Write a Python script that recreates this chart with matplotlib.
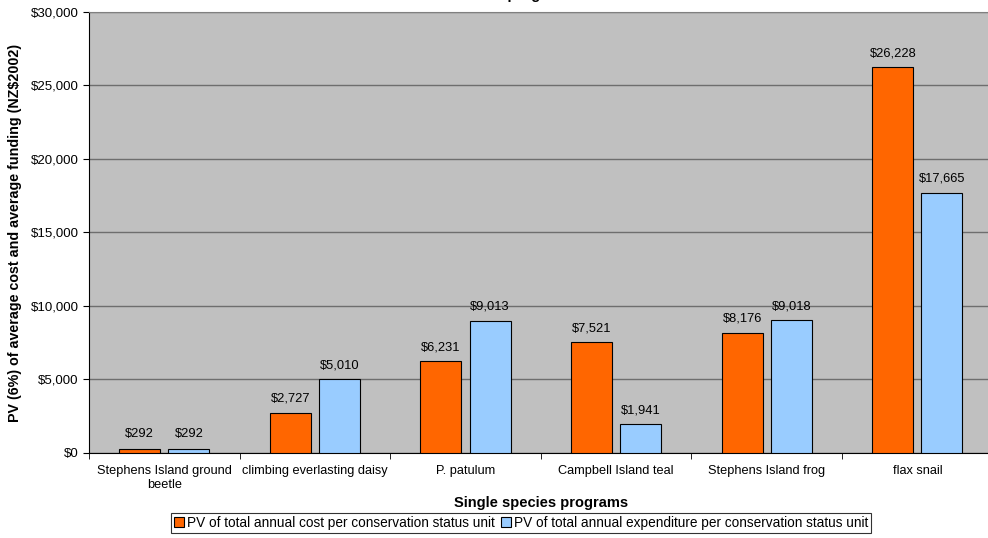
import matplotlib
matplotlib.use("Agg")
import matplotlib.pyplot as plt
import numpy as np
from matplotlib.ticker import FuncFormatter

plt.rcParams['font.family'] = ['Liberation Sans', 'DejaVu Sans']

categories = ["Stephens Island ground\nbeetle", "climbing everlasting daisy", "P. patulum",
              "Campbell Island teal", "Stephens Island frog", "flax snail"]
cost = [292, 2727, 6231, 7521, 8176, 26228]
expenditure = [292, 5010, 9013, 1941, 9018, 17665]
series_names = ["PV of total annual cost per conservation status unit",
                "PV of total annual expenditure per conservation status unit"]

fig = plt.figure(figsize=(9.88, 5.38), dpi=100)
ax = fig.add_axes([0.0901, 0.158, 0.9146, 0.8197])
ax.set_facecolor('#C0C0C0')

x = np.arange(len(categories))
w = 0.272
off = 0.163
b1 = ax.bar(x - off, cost, w, color='#FF6600', edgecolor='black', linewidth=0.8,
            label=series_names[0], zorder=3)
b2 = ax.bar(x + off, expenditure, w, color='#99CCFF', edgecolor='black', linewidth=0.8,
            label=series_names[1], zorder=3)

for bars, vals in ((b1, cost), (b2, expenditure)):
    for r, v in zip(bars, vals):
        ax.annotate(f"${v:,}", (r.get_x() + r.get_width() / 2, v), xytext=(0, 6),
                    textcoords='offset points', ha='center', va='bottom', fontsize=9.3)

ax.set_xlim(-0.5, len(categories) - 0.5)
ax.set_ylim(0, 30000)
ax.set_yticks(np.arange(0, 30001, 5000))
ax.yaxis.set_major_formatter(FuncFormatter(lambda v, p: f"${int(v):,}"))
ax.yaxis.grid(True, color='#6E6E6E', linewidth=1.0, zorder=1)
ax.set_axisbelow(True)

ax.set_xticks(x)
ax.set_xticklabels(categories, fontsize=9.2)
ax.set_xticks(np.arange(-0.5, len(categories), 1), minor=True)
ax.tick_params(axis='x', which='major', length=0, pad=9)
ax.tick_params(axis='x', which='minor', length=4, direction='out')
ax.tick_params(axis='y', labelsize=9.5, length=4, direction='out')

for s in ['top', 'right']:
    ax.spines[s].set_color('#808080')
ax.spines['left'].set_color('black')
ax.spines['bottom'].set_color('black')

ax.set_xlabel("Single species programs", fontsize=10.5, fontweight='bold')
ax.xaxis.set_label_coords(0.5, -0.098)
ax.set_ylabel("PV (6%) of average cost and average funding (NZ$2002)", fontsize=10.3,
              fontweight='bold', labelpad=6)

fig.text(0.535, 1.0085, "for lower cost programs 2003-2012", ha='center', va='center',
         fontsize=10.5, fontweight='bold')

leg = fig.legend(handles=[b1, b2], loc='center', bbox_to_anchor=(0.5273, 0.0279), ncol=2,
                 fontsize=9.8, frameon=True, fancybox=False, edgecolor='black',
                 handlelength=0.75, handleheight=0.75, handletextpad=0.2, columnspacing=0.5,
                 borderpad=0.2, borderaxespad=0)
leg.get_frame().set_linewidth(0.8)

fig.savefig("out.png", dpi=100)
